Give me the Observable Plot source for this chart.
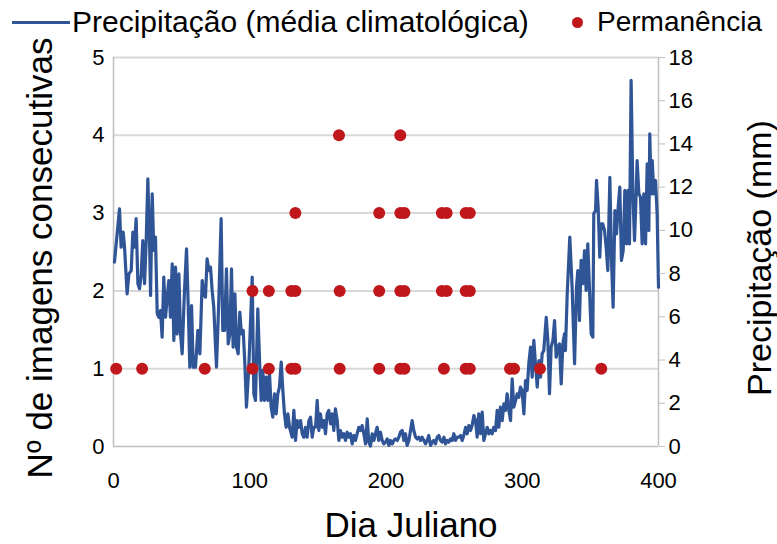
<!DOCTYPE html>
<html>
<head>
<meta charset="utf-8">
<script src="https://cdn.jsdelivr.net/npm/d3@7"></script>
<script src="https://cdn.jsdelivr.net/npm/@observablehq/plot@0.6"></script>
<style>
  html, body { margin: 0; padding: 0; background: #fff; }
  #wrap { width: 777px; font-family: "Liberation Sans", Arial, sans-serif; color: #000; }
  #legend { position: relative; width: 777px; height: 45px; }
  #legend .ln { position: absolute; left: 12px; top: 21px; width: 58px; height: 3px; background: #2f5597; }
  #legend .dt { position: absolute; left: 572px; top: 17px; width: 11px; height: 11px; border-radius: 50%; background: #c0171c; }
  #legend .tx { position: absolute; top: 6px; line-height: 32px; white-space: nowrap; }
</style>
</head>
<body>
<div id="wrap">
  <div id="legend">
    <div class="ln"></div><span class="tx" style="left:72px; font-size:30px">Precipitação (média climatológica)</span>
    <div class="dt"></div><span class="tx" style="left:597px; font-size:28px">Permanência</span>
  </div>
  <div id="chart"></div>
</div>
<script>
// Tick labels
const xTicks = [0, 100, 200, 300, 400];
const leftTicks = [0, 1, 2, 3, 4, 5];
const rightTicks = [0, 2, 4, 6, 8, 10, 12, 14, 16, 18];
const xTitle = "Dia Juliano";
const leftTitle = "Nº de imagens consecutivas";
const rightTitle = "Precipitação (mm)";

// Precipitação (média climatológica): [dia juliano, mm]
const precipitacao = [
[0.7,8.53],[4.4,11.0],[5.6,9.22],[7.1,9.92],[8.1,9.22],[10.0,7.06],[11.3,7.99],[13.0,8.14],[14.2,9.92],[15.4,9.22],
[16.6,10.54],[17.9,7.53],[19.1,7.30],[20.3,7.91],[21.5,9.53],[22.8,7.53],[24.0,9.53],[25.2,12.39],[26.4,9.69],[27.2,6.99],
[28.4,11.69],[29.6,9.07],[30.8,9.69],[32.1,6.14],[33.3,5.98],[34.5,6.29],[35.7,5.06],[36.9,7.84],[38.2,5.98],[39.4,6.91],
[40.6,7.68],[41.8,5.98],[43.1,8.45],[44.3,4.91],[45.5,8.30],[46.7,5.21],[48.0,7.99],[49.2,5.21],[50.4,4.29],[52.1,7.22],
[53.6,9.15],[54.8,6.60],[56.0,3.67],[57.3,6.52],[58.5,3.67],[60.2,3.67],[61.9,5.37],[63.4,4.29],[65.1,7.68],[66.3,7.06],
[67.5,6.91],[68.7,8.68],[70.0,8.14],[71.2,8.30],[72.4,7.22],[73.6,6.45],[74.9,4.60],[75.6,3.67],[77.3,6.76],[79.0,10.54],
[80.2,5.37],[81.5,5.37],[82.9,8.22],[84.2,4.75],[85.4,5.21],[86.6,8.22],[87.8,4.60],[89.1,7.06],[90.3,4.60],[91.5,4.29],
[92.7,6.22],[93.9,5.21],[95.2,5.37],[96.4,3.83],[97.6,1.82],[99.3,3.67],[100.6,5.83],[101.8,7.84],[103.0,2.44],[104.2,2.13],
[105.9,6.37],[107.2,3.98],[108.4,2.13],[109.6,3.52],[110.8,2.13],[112.1,3.21],[113.3,2.13],[114.5,3.36],[115.7,1.82],[116.9,1.36],
[118.2,2.44],[119.4,1.51],[120.6,2.44],[121.8,2.75],[123.1,3.90],[124.3,2.59],[125.5,1.51],[126.7,0.89],[128.0,1.51],[129.2,0.89],
[131.1,0.43],[132.4,1.67],[133.6,0.28],[134.8,1.20],[136.0,0.89],[137.3,1.20],[138.5,0.59],[139.7,0.43],[140.9,0.89],[142.1,0.43],
[143.4,1.20],[144.6,1.36],[145.8,0.43],[147.0,0.89],[148.3,0.89],[149.5,2.13],[150.7,0.74],[151.9,1.51],[153.2,0.89],[154.4,1.20],
[155.6,0.59],[156.8,1.51],[158.0,1.67],[159.3,1.05],[160.5,1.51],[161.7,0.74],[162.9,1.74],[164.2,1.20],[165.4,0.28],[166.6,0.74],
[167.8,0.43],[169.1,0.59],[170.3,0.28],[171.5,0.66],[172.7,0.43],[173.9,0.59],[175.2,0.12],[176.4,0.51],[177.6,0.28],[178.8,0.59],
[180.1,0.89],[181.3,0.74],[182.5,0.97],[183.7,0.59],[185.0,0.12],[186.2,1.28],[187.4,0.20],[188.6,0.02],[189.9,0.59],[191.1,0.28],
[192.3,0.59],[193.5,0.89],[194.7,0.28],[196.0,0.66],[197.2,0.28],[198.4,0.12],[199.6,0.20],[200.9,0.35],[202.1,0.05],[203.3,0.28],
[204.5,0.12],[205.8,0.28],[207.0,0.35],[208.2,0.28],[209.4,0.43],[210.6,0.66],[211.9,0.74],[213.1,0.28],[214.3,0.59],[215.5,0.05],
[216.8,0.28],[218.0,0.74],[219.2,1.20],[220.4,0.74],[221.7,0.43],[222.9,0.35],[224.1,0.43],[225.3,0.28],[226.5,0.43],[227.8,0.28],
[229.0,0.12],[230.2,0.28],[231.4,0.51],[232.7,0.05],[233.9,0.20],[235.1,0.28],[236.3,0.12],[237.6,0.43],[238.8,0.51],[240.0,0.28],
[241.2,0.20],[242.5,0.43],[243.7,0.12],[244.9,0.28],[246.1,0.20],[247.3,0.35],[248.6,0.28],[249.8,0.59],[251.0,0.28],[252.2,0.43],
[253.5,0.43],[254.7,0.51],[255.9,0.28],[257.1,0.51],[258.4,0.89],[259.6,0.59],[260.8,0.97],[262.0,0.74],[263.2,0.97],[264.5,1.43],
[265.7,1.20],[266.9,0.43],[268.1,1.51],[269.4,0.59],[270.6,1.59],[271.8,0.28],[273.0,0.59],[274.3,0.89],[275.5,0.59],[276.7,0.74],
[277.9,0.59],[279.1,0.89],[280.4,0.74],[281.6,1.67],[282.8,0.89],[284.0,1.82],[285.3,1.20],[286.5,1.97],[287.7,1.67],[288.9,2.44],
[290.2,1.67],[291.4,1.20],[292.6,3.13],[293.8,1.82],[295.1,2.13],[296.3,2.44],[297.5,2.28],[298.7,2.75],[299.9,2.59],[301.2,1.51],
[302.4,3.05],[303.6,2.59],[304.8,3.83],[306.1,4.60],[307.3,3.21],[308.5,4.91],[309.7,3.83],[311.0,2.75],[312.2,3.98],[313.4,3.21],
[314.6,4.29],[315.8,4.44],[317.6,5.98],[318.8,4.91],[320.0,2.44],[321.2,4.60],[322.5,4.91],[323.7,5.83],[324.9,4.13],[326.1,4.60],
[327.3,4.75],[328.6,2.90],[329.8,4.75],[331.0,5.21],[331.7,4.44],[333.0,7.06],[334.9,9.69],[336.6,7.37],[338.4,3.83],[339.8,7.37],
[340.8,8.14],[342.0,5.83],[343.2,8.61],[344.5,7.53],[345.7,9.07],[346.9,7.22],[348.1,9.38],[349.4,7.22],[350.6,5.21],[351.8,5.06],
[352.5,10.77],[353.8,10.92],[354.5,12.31],[355.7,11.08],[356.9,8.76],[357.9,10.30],[359.1,10.30],[360.4,10.0],[361.6,9.22],[362.8,8.14],
[364.3,12.46],[365.5,8.61],[366.7,6.45],[368.0,10.92],[369.2,9.84],[370.4,11.08],[371.6,12.0],[372.8,8.61],[374.1,9.07],[375.3,11.85],
[376.5,9.38],[377.7,11.85],[378.7,9.38],[379.9,16.94],[381.2,11.69],[382.4,9.53],[383.6,11.69],[384.3,13.23],[385.6,11.69],[386.8,11.54],
[388.0,9.38],[389.2,11.69],[390.5,9.38],[391.7,13.08],[392.9,10.0],[393.6,14.47],[394.6,11.69],[395.4,13.23],[396.6,11.69],[397.8,12.31],
[399.0,10.77],[400.0,7.37]
];

// Permanência: [dia juliano, nº de imagens consecutivas]
const permanencia = [
[2,1],[21,1],[67,1],[102,1],[114,1],[130.5,1],[133.5,1],[166,1],[195,1],[210.5,1],[213.5,1],[242.5,1],[258.5,1],[261.5,1],[291,1],[294,1],[313,1],[358,1],
[102,2],[114,2],[130.5,2],[133.5,2],[166,2],[195,2],[210.5,2],[213.5,2],[241,2],[244.5,2],[258.5,2],[261.5,2],
[133.5,3],[195,3],[210.5,3],[213.5,3],[241,3],[244.5,3],[258.5,3],[261.5,3],
[165.5,4],[210.5,4]
];

const yMax = 5, mmMax = 18;
const toY = mm => mm * yMax / mmMax;

const chart = Plot.plot({
  width: 777,
  height: 499,
  marginLeft: 113,
  marginRight: 119,
  marginTop: 12,
  marginBottom: 98,
  x: {domain: [0, 400]},
  y: {domain: [0, yMax]},
  style: {fontFamily: "'Liberation Sans', Arial, sans-serif", fontSize: "22px", color: "#000", background: "#fff", overflow: "visible"},
  marks: [
    Plot.ruleY(leftTicks.filter(d => d > 0), {stroke: "#d9d9d9", strokeWidth: 2}),
    Plot.ruleX([0, 400], {stroke: "#bfbfbf", strokeWidth: 1.5}),
    Plot.ruleY([0], {stroke: "#bfbfbf", strokeWidth: 1.5}),
    Plot.line(precipitacao, {x: d => d[0], y: d => toY(d[1]), stroke: "#2f5597", strokeWidth: 3.2, strokeLinejoin: "round"}),
    Plot.dot(permanencia, {x: d => d[0], y: d => d[1], r: 6, fill: "#c0171c", stroke: "none"}),
    Plot.axisX({ticks: xTicks, tickSize: 0, tickPadding: 26, label: null, fontSize: 22}),
    Plot.axisY({ticks: leftTicks, tickFormat: d => String(d), tickSize: 0, tickPadding: 9, label: null, fontSize: 22}),
    Plot.axisY({anchor: "right", ticks: rightTicks.map(toY), tickFormat: d => String(Math.round(d * mmMax / yMax)), tickSize: 6, tickPadding: 4, stroke: "#bfbfbf", label: null, fontSize: 22}),
    Plot.text([leftTitle], {text: d => d, frameAnchor: "left", textAnchor: "middle", lineAnchor: "middle", dx: -73, dy: 6, rotate: -90, fontSize: 35}),
    Plot.text([rightTitle], {text: d => d, frameAnchor: "right", textAnchor: "middle", lineAnchor: "middle", dx: 102, dy: 6, rotate: -90, fontSize: 34}),
    Plot.text([xTitle], {text: d => d, frameAnchor: "bottom", textAnchor: "middle", lineAnchor: "middle", dx: 25, dy: 79, fontSize: 35})
  ]
});
document.getElementById("chart").appendChild(chart);
</script>
</body>
</html>
